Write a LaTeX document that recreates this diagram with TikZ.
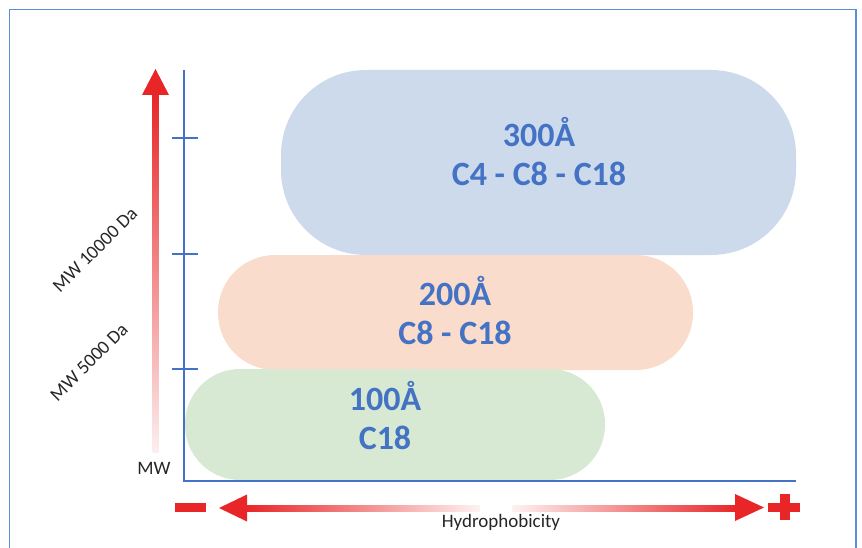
\documentclass[tikz,border=0pt]{standalone}
\usepackage{fontspec}
\setmainfont{Carlito}
\definecolor{axisblue}{RGB}{68,114,196}
\definecolor{frameblue}{RGB}{90,142,218}
\definecolor{arrred}{RGB}{232,38,40}
\definecolor{blobblue}{RGB}{204,218,236}
\definecolor{blobpeach}{RGB}{249,220,203}
\definecolor{blobgreen}{RGB}{215,233,211}
\begin{document}
\begin{tikzpicture}
	  [x=1pt,y=-1pt,every node/.style={inner sep=0pt,align=center},
	   pore/.style={text=axisblue,font=\fontsize{34}{39}\selectfont\bfseries},
	   lbl/.style={text=black!85,font=\fontsize{19}{22}\selectfont}]
	\useasboundingbox (0,0) rectangle (862,548);
	\draw[frameblue,line width=1.5pt] (9.5,548) -- (9.5,9.5) -- (856,9.5) -- (856,548);

	% pore size regions
	\fill[blobblue,rounded corners=85pt]  (281,70)  rectangle (796,255);
	\fill[blobpeach,rounded corners=57pt] (218,255) rectangle (693,370);
	\fill[blobgreen,rounded corners=55pt] (185,369) rectangle (605,480);

	\node[pore] (n300) at (539,151.5) {300Å\\C4 - C8 - C18};
	\node[pore] (n200) at (455,311)   {200Å\\C8 - C18};
	\node[pore] (n100) at (385,416)   {100Å\\C18};

	% axes
	\draw[axisblue,line width=2pt] (184,70) -- (184,481) -- (796,481);
	\foreach \ty in {138,254,369}
	  \draw[axisblue,line width=1.5pt] (172,\ty) -- (198,\ty);

	% molecular weight arrow
	\shade[top color=arrred,middle color=arrred!75,bottom color=arrred!8]
	  (152.5,94) rectangle (158.5,452);
	\fill[arrred] (155.5,69) -- (169,95) -- (142,95) -- cycle;
	\node[lbl] (mw)   at (154,468) {MW};
	\node[lbl,rotate=45] (mw10) at (95,250) {MW 10000 Da};
	\node[lbl,rotate=45] (mw5)  at (89,362) {MW 5000 Da};

	% hydrophobicity arrows
	\shade[left color=arrred,middle color=arrred!70,right color=arrred!6]
	  (246,505) rectangle (480,511);
	\shade[left color=arrred!6,middle color=arrred!70,right color=arrred]
	  (512,505) rectangle (736,511);
	\fill[arrred] (219,508) -- (247,494.5) -- (247,521.5) -- cycle;
	\fill[arrred] (764,507.5) -- (735,494) -- (735,521) -- cycle;
	\fill[arrred] (175,503) rectangle (206,512);
	\fill[arrred] (768,503) rectangle (800,512);
	\fill[arrred] (779.5,494) rectangle (789.5,520);
	\node[lbl] (hyd) at (501,522) {Hydrophobicity};
\end{tikzpicture}
\end{document}
